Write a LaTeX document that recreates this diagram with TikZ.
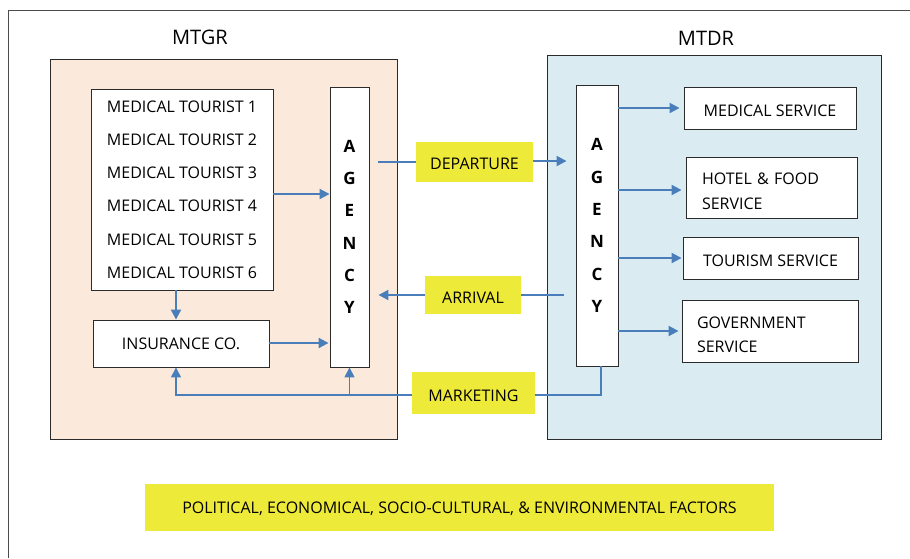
\documentclass[tikz,border=0pt]{standalone}
\usepackage{fontspec}
\setmainfont{Open Sans}
\usetikzlibrary{arrows.meta,calc}
\definecolor{peach}{HTML}{FBE9DB}
\definecolor{paleblue}{HTML}{DAECF2}
\definecolor{hilite}{HTML}{EEEA3A}
\definecolor{flow}{HTML}{4A7EBB}
\definecolor{edge}{HTML}{2B2B2B}
\begin{document}
\begin{tikzpicture}[x=1pt,y=-1pt,
  txt/.style={font=\fontsize{16}{19}\selectfont,text height=16pt,text depth=0pt},
  wbox/.style={draw=edge,line width=0.9pt,fill=white,inner sep=0pt,txt},
  ybox/.style={fill=hilite,inner sep=0pt,txt},
  agencybox/.style={draw=edge,line width=0.9pt,fill=white,inner sep=0pt,
    minimum width=40pt,minimum height=280pt,
    align=center,font=\fontsize{17}{32.3}\selectfont\bfseries},
  twoline/.style={draw=edge,line width=0.9pt,fill=white,inner sep=0pt,align=left},
  region/.style={draw=edge,line width=0.9pt},
  title/.style={font=\fontsize{20}{24}\selectfont},
  flowline/.style={draw=flow,line width=2pt},
  flowarrow/.style={flowline,-{Triangle[length=10pt,width=10pt]}}]
\useasboundingbox (0,0) rectangle (910,558);
% outer frame
\draw[draw=black!70,line width=0.9pt] (8,558) -- (8,10) -- (910,10);

% the two regions
\draw[region,fill=peach] (50,59) rectangle (397,439);
\draw[region,fill=paleblue] (547,55) rectangle (881,439);
\node[title] (mtgr) at (200,37) {MTGR};
\node[title] (mtdr) at (706,38) {MTDR};

% origin side
\node[draw=edge,line width=0.9pt,fill=white,inner sep=0pt,
  minimum width=182pt,minimum height=201pt,align=center,
  font=\fontsize{16}{33.2}\selectfont] (tour) at (182,189.5)
  {MEDICAL TOURIST 1\\MEDICAL TOURIST 2\\MEDICAL TOURIST 3\\MEDICAL TOURIST 4\\MEDICAL TOURIST 5\\MEDICAL TOURIST 6};
\node[wbox,minimum width=176pt,minimum height=47pt,text height=12pt] (ins) at (181,343.5) {INSURANCE CO.};
\node[agencybox,minimum width=39pt] (agL) at (349.5,227) {A\\G\\E\\N\\C\\Y};

% destination side
\node[agencybox,minimum width=42pt,minimum height=281pt] (agR) at (597,225.5) {A\\G\\E\\N\\C\\Y};
\node[wbox,minimum width=172pt,minimum height=42pt,text height=17pt] (med) at (770,108) {MEDICAL SERVICE};
\node[twoline,minimum height=61pt,text width=139pt,inner xsep=16pt,
  font=\fontsize{16}{25}\selectfont,text height=20pt,text depth=25.6pt] (hotel) at (771.5,187.5) {HOTEL \& FOOD\\SERVICE};
\node[wbox,minimum width=175pt,minimum height=42pt,text height=17pt] (tsm) at (770.5,258) {TOURISM SERVICE};
\node[twoline,minimum height=62pt,text width=146pt,inner xsep=15pt,
  font=\fontsize{16}{24}\selectfont,text height=20pt,text depth=24.6pt] (gov) at (770,331) {GOVERNMENT\\SERVICE};

% flows between the regions
\node[ybox,minimum width=117pt,minimum height=40pt,text height=15.5pt] (dep) at (474.5,162) {DEPARTURE};
\node[ybox,minimum width=96pt,minimum height=38pt,text height=17pt] (arr) at (473,295) {ARRIVAL};
\node[ybox,minimum width=123pt,minimum height=42pt,text height=17pt] (mkt) at (473.5,393) {MARKETING};
\node[ybox,minimum width=629pt,minimum height=47pt,text height=12pt] (fac) at (459.5,507.5)
  {POLITICAL, ECONOMICAL, SOCIO-CULTURAL, \& ENVIRONMENTAL FACTORS};

% origin side arrows
\draw[flowarrow] ([yshift=-4.5pt]tour.east) -- ([yshift=-4.5pt]tour.east -| agL.west);
\draw[flowarrow] ([xshift=-6pt]tour.south) -- ([xshift=-6pt]tour.south |- ins.north);
\draw[flowarrow,shorten >=1pt] ([yshift=0.5pt]ins.east) -- ([yshift=0.5pt]ins.east -| agL.west);

% departure and arrival
\draw[flowline,shorten <=9pt] (dep.west -| agL.east) -- (dep.west);
\draw[flowarrow,shorten >=9pt] ([yshift=1pt]dep.east) -- ([yshift=1pt]dep.east -| agR.west);
\draw[flowline,shorten <=12pt] (arr.east -| agR.west) -- (arr.east);
\draw[flowarrow,shorten >=9pt] (arr.west) -- (arr.west -| agL.east);

% marketing feedback
\coordinate (mR) at ([xshift=4pt,yshift=-2pt]agR.south |- mkt.east);
\draw[flowline,line width=1.6pt] ([xshift=4pt]agR.south) -- (mR) -- ([yshift=-2pt]mkt.east);
\coordinate (mL) at ([xshift=-5pt,yshift=-2pt]ins.south |- mkt.west);
\draw[flowline,line width=1.6pt,-{Triangle[length=10pt,width=10pt]}]
  ([yshift=-2pt]mkt.west) -- (mL) -- ([xshift=-5pt]ins.south);
\draw[flowline,line width=1.6pt,-{Triangle[length=10pt,width=10pt]}]
  ([yshift=-2pt]agL.south |- mkt.west) -- (agL.south);

% agency to services
\draw[flowarrow,shorten >=4pt] (agR.east |- med.west) -- (med.west);
\draw[flowarrow,shorten >=4pt] ([yshift=-2.5pt]agR.east |- hotel.west) -- ([yshift=-2.5pt]hotel.west);
\draw[flowarrow,shorten >=1pt] (agR.east |- tsm.west) -- (tsm.west);
\draw[flowarrow,shorten >=3pt] (agR.east |- gov.west) -- (gov.west);
\end{tikzpicture}
\end{document}
